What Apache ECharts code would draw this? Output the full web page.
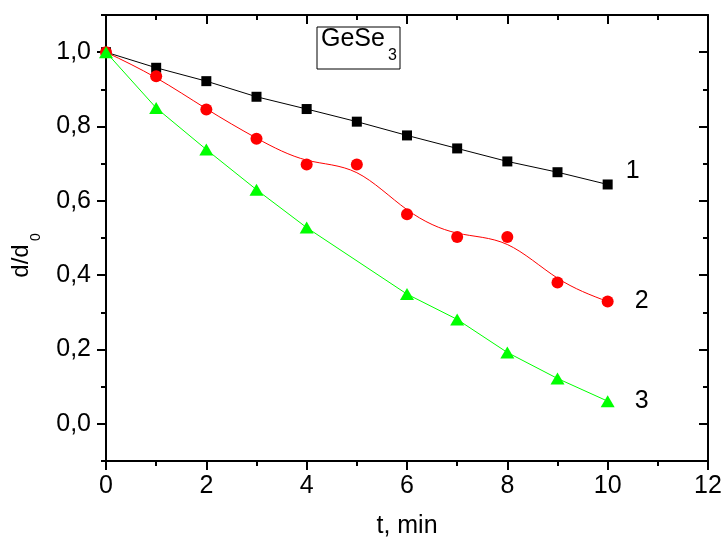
<!DOCTYPE html>
<html>
<head>
<meta charset="utf-8">
<script src="https://cdn.jsdelivr.net/npm/echarts@6/dist/echarts.min.js"></script>
<style>
  html, body { margin: 0; padding: 0; background: #fff; }
  #chart { width: 724px; height: 538px; }
</style>
</head>
<body>
<div id="chart"></div>
<script>
// Etching time, minutes
const tValues = [0, 1, 2, 3, 4, 5, 6, 7, 8, 9, 10];
// Relative thickness d/d0 for the three GeSe3 films
const curve1 = [1.0, 0.958, 0.922, 0.880, 0.847, 0.813, 0.776, 0.741, 0.706, 0.677, 0.644];
const curve2 = [1.0, 0.935, 0.846, 0.767, 0.698, 0.698, 0.564, 0.503, 0.503, 0.380, 0.329];
// Curve 3 has no measurement at t = 5
const tValues3 = [0, 1, 2, 3, 4, 6, 7, 8, 9, 10];
const curve3 = [1.0, 0.850, 0.738, 0.630, 0.528, 0.349, 0.281, 0.192, 0.122, 0.061];
const curveNames = ['1', '2', '3'];
// Axis ticks
const yMajorTicks = [0, 0.2, 0.4, 0.6, 0.8, 1.0];
const yMinorTicks = [-0.1, 0.1, 0.3, 0.5, 0.7, 0.9, 1.1];

const FONT = '"Liberation Sans", Arial, sans-serif';
const FS = 25;
const axisLineStyle = { color: '#000', width: 2 };

function pairs(xs, ys) { return xs.map((x, i) => [x, ys[i]]); }

function xAxisDef(position, inside, showLabel) {
  return {
    type: 'value', position: position, min: 0, max: 12, interval: 2,
    axisLine: { show: true, onZero: false, lineStyle: axisLineStyle },
    axisTick: { show: true, inside: inside, length: 9, lineStyle: { color: '#000', width: 2 } },
    minorTick: { show: true, splitNumber: 2, length: 5, lineStyle: { color: '#000', width: 2 } },
    splitLine: { show: false }, minorSplitLine: { show: false },
    axisLabel: { show: showLabel, fontSize: FS, fontFamily: FONT, color: '#000', margin: 13 }
  };
}

function yAxisDef(position, inside, ticks, len, showLine, showLabel) {
  return {
    type: 'value', position: position, min: -0.1, max: 1.1, interval: 0.1,
    axisLine: { show: showLine, onZero: false, lineStyle: axisLineStyle },
    axisTick: { show: true, inside: inside, length: len, customValues: ticks,
      lineStyle: { color: '#000', width: 2 } },
    splitLine: { show: false },
    axisLabel: {
      show: showLabel, customValues: ticks, fontSize: FS, fontFamily: FONT, color: '#000', margin: 15,
      formatter: v => v.toFixed(1).replace('.', ',')
    }
  };
}

function endLabel(text, offset) {
  return { show: true, formatter: text, distance: 0, offset: offset, align: 'left',
    fontSize: FS, fontFamily: FONT, color: '#000' };
}

// Uniform cubic B-spline over the points of curve 2 (ends clamped by reflection),
// drawn as one Bezier segment per interval.
function bSplineSegment(params, api) {
  const i = params.dataIndex;
  const n = tValues.length;
  if (i >= n - 1) return null;
  const Q = k => {
    if (k < 0) { const a = api.coord([tValues[0], curve2[0]]), b = api.coord([tValues[1], curve2[1]]); return [2 * a[0] - b[0], 2 * a[1] - b[1]]; }
    if (k > n - 1) { const a = api.coord([tValues[n - 1], curve2[n - 1]]), b = api.coord([tValues[n - 2], curve2[n - 2]]); return [2 * a[0] - b[0], 2 * a[1] - b[1]]; }
    return api.coord([tValues[k], curve2[k]]);
  };
  const q0 = Q(i - 1), q1 = Q(i), q2 = Q(i + 1), q3 = Q(i + 2);
  const mix = (a, b, c, wa, wb, wc, d) => [(a[0] * wa + b[0] * wb + c[0] * wc) / d, (a[1] * wa + b[1] * wb + c[1] * wc) / d];
  const s = mix(q0, q1, q2, 1, 4, 1, 6);
  const e = mix(q1, q2, q3, 1, 4, 1, 6);
  const c1 = mix(q1, q2, q2, 2, 1, 0, 3);
  const c2 = mix(q1, q2, q2, 1, 2, 0, 3);
  return {
    type: 'bezierCurve',
    shape: { x1: s[0], y1: s[1], x2: e[0], y2: e[1], cpx1: c1[0], cpy1: c1[1], cpx2: c2[0], cpy2: c2[1] },
    style: { stroke: '#ff0000', lineWidth: 1, fill: null }
  };
}

const chart = echarts.init(document.getElementById('chart'));
chart.setOption({
  animation: false,
  backgroundColor: '#fff',
  grid: { left: 106, right: 16, top: 15, bottom: 77, outerBoundsMode: 'none', containLabel: false },
  xAxis: [
    Object.assign(xAxisDef('bottom', false, true), {
      name: 't, min', nameLocation: 'middle', nameGap: 53,
      nameTextStyle: { fontSize: FS, fontFamily: FONT, color: '#000' }
    }),
    xAxisDef('top', true, false)
  ],
  yAxis: [
    yAxisDef('left', false, yMajorTicks, 9, true, true),
    yAxisDef('left', false, yMinorTicks, 5, false, false),
    yAxisDef('right', true, yMajorTicks, 9, true, false),
    yAxisDef('right', true, yMinorTicks, 5, false, false)
  ],
  series: [
    {
      type: 'line', data: pairs(tValues, curve1), symbol: 'rect', symbolSize: 10,
      itemStyle: { color: '#000' }, lineStyle: { color: '#000', width: 1 },
      endLabel: endLabel(curveNames[0], [18, -13]), z: 3
    },
    {
      type: 'custom', data: pairs(tValues, curve2), renderItem: bSplineSegment,
      silent: true, z: 4
    },
    {
      type: 'line', data: pairs(tValues, curve2), symbol: 'circle', symbolSize: 12,
      itemStyle: { color: '#ff0000' }, lineStyle: { color: '#ff0000', width: 0, opacity: 0 },
      endLabel: endLabel(curveNames[1], [27, 0]), z: 4
    },
    {
      type: 'line', data: pairs(tValues3, curve3), symbol: 'triangle', symbolSize: [14, 12],
      itemStyle: { color: '#00ff00' }, lineStyle: { color: '#00ff00', width: 1 },
      endLabel: endLabel(curveNames[2], [27, 0]), z: 5
    }
  ],
  graphic: [
    { type: 'rect', shape: { x: 317, y: 27, width: 83, height: 42 },
      style: { fill: '#fff', stroke: '#000', lineWidth: 1 }, z: 10 },
    { type: 'text', x: 321, y: 52, z: 11,
      style: { text: 'GeSe', font: '25px ' + FONT, fill: '#000', align: 'left', verticalAlign: 'bottom' } },
    { type: 'text', x: 388, y: 64, z: 11,
      style: { text: '3', font: '16px ' + FONT, fill: '#000', align: 'left', verticalAlign: 'bottom' } },
    { type: 'text', x: 21, y: 261, rotation: Math.PI / 2,
      style: { text: 'd/d', font: '24px ' + FONT, fill: '#000', align: 'center', verticalAlign: 'middle' } },
    { type: 'text', x: 36, y: 237, rotation: Math.PI / 2,
      style: { text: '0', font: '14px ' + FONT, fill: '#000', align: 'center', verticalAlign: 'middle' } }
  ]
});
</script>
</body>
</html>
